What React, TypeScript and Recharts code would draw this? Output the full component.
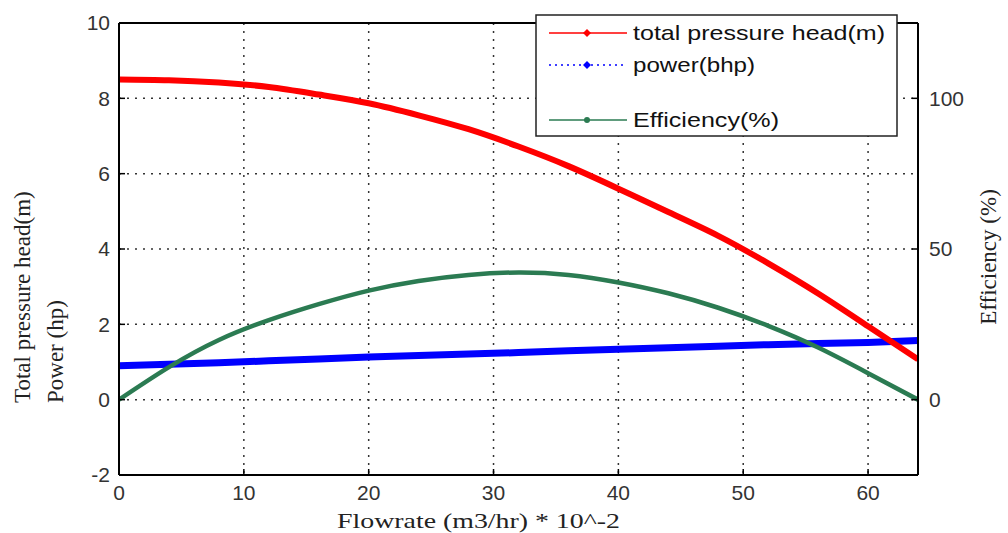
import { CartesianGrid, Label, Legend, Line, LineChart, XAxis, YAxis } from 'recharts';

// pump curves, flowrate in m3/hr * 10^-2
const flow = [0, 4, 8, 12, 16, 20, 24, 28, 32, 36, 40, 44, 48, 52, 56, 60, 64];
const headM = [8.5, 8.48, 8.42, 8.3, 8.1, 7.87, 7.55, 7.18, 6.72, 6.2, 5.6, 4.98, 4.35, 3.62, 2.82, 1.95, 1.07];
const powerHp = [0.9, 0.94, 0.98, 1.03, 1.08, 1.13, 1.17, 1.21, 1.25, 1.3, 1.34, 1.38, 1.42, 1.46, 1.49, 1.52, 1.57];
const efficiencyPct = [0, 10.8, 19.8, 26.4, 31.7, 36.2, 39.4, 41.4, 42.2, 41.4, 38.9, 35.3, 30.5, 24.5, 17.3, 8.8, 0];

const xTicks = [0, 10, 20, 30, 40, 50, 60];
const leftTicks = [-2, 0, 2, 4, 6, 8, 10];
const rightTicks = [0, 50, 100];

const data = flow.map((q, i) => ({
  q,
  head: headM[i],
  power: powerHp[i],
  eff: efficiencyPct[i],
}));

const RED = '#ff0000';
const BLUE = '#0000ff';
const GREEN = '#2b7b52';
const AXIS = { stroke: '#000', strokeWidth: 2 };
const TICK = { fill: '#333', fontSize: 21, fontFamily: 'Liberation Sans, Arial, sans-serif' };
const SERIF = 'Liberation Serif, Times New Roman, serif';

const LeftTitle = ({ viewBox }: any) => {
  const { x, y, height } = viewBox;
  const bottom = y + height - 72;
  return (
    <g fill="#222" fontFamily={SERIF} fontSize={23}>
      <text x={x + 30} y={bottom} transform={`rotate(-90, ${x + 30}, ${bottom})`} textAnchor="start">
        Total pressure head(m)
      </text>
      <text x={x + 63} y={bottom} transform={`rotate(-90, ${x + 63}, ${bottom})`} textAnchor="start">
        Power (hp)
      </text>
    </g>
  );
};

const RightTitle = ({ viewBox }: any) => {
  const cx = viewBox.x + 78;
  const cy = viewBox.y + 234;
  return (
    <text
      x={cx}
      y={cy}
      transform={`rotate(-90, ${cx}, ${cy})`}
      textAnchor="middle"
      fill="#222"
      fontFamily={SERIF}
      fontSize={23}
    >
      Efficiency (%)
    </text>
  );
};

const BottomTitle = ({ viewBox }: any) => (
  <text
    x={viewBox.x + 218}
    y={viewBox.y + 53}
    fill="#222"
    fontFamily={SERIF}
    fontSize={21}
    textLength={283}
    lengthAdjust="spacingAndGlyphs"
  >
    Flowrate (m3/hr) * 10^-2
  </text>
);

const legendRows = [
  { name: 'total pressure head(m)', color: RED, y: 19, dash: undefined, width: 252, marker: 'diamond' },
  { name: 'power(bhp)', color: BLUE, y: 51, dash: '2 4', width: 122, marker: 'diamond' },
  { name: 'Efficiency(%)', color: GREEN, y: 106, dash: undefined, width: 146, marker: 'dot' },
];

const PumpLegend = () => (
  <svg width={363} height={123} style={{ display: 'block' }}>
    <rect x={1} y={1} width={361} height={121} fill="#fff" stroke="#222" strokeWidth={1.5} />
    {legendRows.map((r) => (
      <g key={r.name}>
        <line x1={14} x2={92} y1={r.y} y2={r.y} stroke={r.color} strokeWidth={1.5} strokeDasharray={r.dash} />
        {r.marker === 'diamond' ? (
          <path d={`M52 ${r.y - 4} L56 ${r.y} L52 ${r.y + 4} L48 ${r.y} Z`} fill={r.color} />
        ) : (
          <circle cx={52} cy={r.y} r={3} fill={r.color} />
        )}
        <text
          x={98}
          y={r.y + 7}
          fill="#111"
          fontFamily="Liberation Sans, Arial, sans-serif"
          fontSize={21}
          textLength={r.width}
          lengthAdjust="spacingAndGlyphs"
        >
          {r.name}
        </text>
      </g>
    ))}
  </svg>
);

export default function App() {
  return (
    <div style={{ position: 'absolute', left: 0, top: 0, width: 1008, height: 533, background: '#fff' }}>
      <LineChart width={1008} height={533} data={data} margin={{ top: 22, right: 0, bottom: 0, left: 0 }}>
        <CartesianGrid
          xAxisId="bottom"
          yAxisId="left"
          stroke="#333"
          strokeWidth={1.5}
          strokeDasharray="2 6"
        />
        <XAxis
          xAxisId="bottom"
          dataKey="q"
          type="number"
          domain={[0, 64]}
          ticks={xTicks}
          interval={0}
          height={58}
          tick={TICK}
          tickSize={-6}
          tickMargin={16}
          axisLine={AXIS}
          tickLine={{ stroke: '#000', strokeWidth: 1.5 }}
          allowDataOverflow
        >
          <Label content={BottomTitle} />
        </XAxis>
        <XAxis
          xAxisId="top"
          orientation="top"
          dataKey="q"
          type="number"
          domain={[0, 64]}
          ticks={xTicks}
          interval={0}
          height={1}
          tick={false}
          tickSize={-6}
          axisLine={AXIS}
          tickLine={{ stroke: '#000', strokeWidth: 1.5 }}
        />
        <YAxis
          yAxisId="left"
          type="number"
          domain={[-2, 10]}
          ticks={leftTicks}
          interval={0}
          width={119}
          tick={TICK}
          tickSize={-6}
          tickMargin={15}
          axisLine={AXIS}
          tickLine={{ stroke: '#000', strokeWidth: 1.5 }}
          allowDataOverflow
        >
          <Label content={LeftTitle} />
        </YAxis>
        <YAxis
          yAxisId="right"
          orientation="right"
          type="number"
          domain={[-25, 125]}
          ticks={rightTicks}
          interval={0}
          width={90}
          tick={{ ...TICK, textAnchor: 'start' }}
          tickSize={-6}
          tickMargin={17}
          axisLine={AXIS}
          tickLine={{ stroke: '#000', strokeWidth: 1.5 }}
          allowDataOverflow
        >
          <Label content={RightTitle} />
        </YAxis>
        <Line
          xAxisId="bottom"
          yAxisId="left"
          type="linear"
          dataKey="power"
          stroke={BLUE}
          strokeWidth={7}
          dot={false}
          activeDot={false}
          isAnimationActive={false}
        />
        <Line
          xAxisId="bottom"
          yAxisId="left"
          type="natural"
          dataKey="head"
          stroke={RED}
          strokeWidth={6}
          dot={false}
          activeDot={false}
          isAnimationActive={false}
        />
        <Line
          xAxisId="bottom"
          yAxisId="right"
          type="natural"
          dataKey="eff"
          stroke={GREEN}
          strokeWidth={4.5}
          dot={false}
          activeDot={false}
          isAnimationActive={false}
        />
        <Legend
          layout="vertical"
          align="center"
          verticalAlign="middle"
          content={PumpLegend}
          wrapperStyle={{ left: 535, top: 14, width: 363, height: 123 }}
        />
      </LineChart>
    </div>
  );
}
